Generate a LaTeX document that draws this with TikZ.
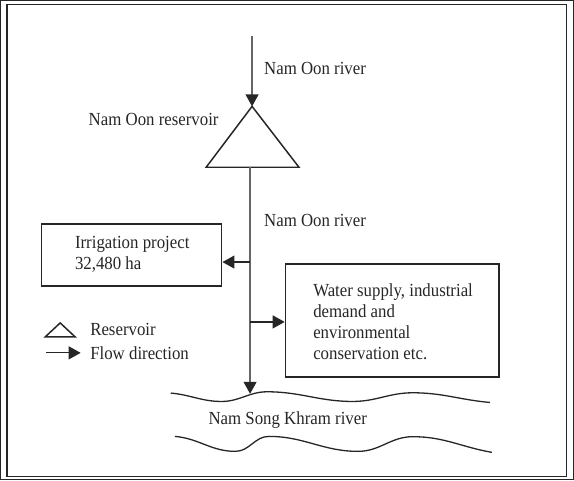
\documentclass[tikz,border=0pt]{standalone}
\usepackage{fontspec}
\setmainfont[FakeStretch=0.911]{Liberation Serif}
\usetikzlibrary{arrows.meta}
\tikzset{every path/.style={line width=1.2pt, draw=black!85},
  flow/.style={-{Triangle[length=12pt,width=13pt,color=black!85]}},
  stem/.style={draw=black!60},
  box/.style={draw, line width=1.5pt, inner sep=0pt},
  wave/.style={line width=1.3pt},
  lbl/.style={inner sep=0pt, font=\fontsize{18.5}{21}\selectfont, align=left, text=black!85}}

\begin{document}
\begin{tikzpicture}[x=1pt,y=-1pt]
\useasboundingbox (0,0) rectangle (574,480);
\draw[line width=1.6pt] (6.5,4) rectangle (567,477);
% reservoir
\coordinate (src) at (252,35);
\coordinate (apex) at (252,106);
\coordinate (baseL) at (206,167);
\coordinate (baseR) at (299,167);
\coordinate (resout) at (250,167);
\draw[line width=1.5pt, line join=miter] (apex) -- (baseL) -- (baseR) -- cycle;
\draw[flow, stem] (src) -- (apex);
\node[lbl, anchor=west] (riv1) at (263.5,68) {Nam Oon river};
\node[lbl, anchor=east] (res) at (219,119) {Nam Oon reservoir};
\node[lbl, anchor=west] (riv2) at (263.5,220) {Nam Oon river};
% users
\node[box, minimum width=180.5pt, minimum height=62pt] (irrig) at (131.3,255) {};
\node[lbl, anchor=west] (irrigtxt) at (74,254) {Irrigation project\\32,480 ha};
\node[box, minimum width=214pt, minimum height=113pt] (water) at (392.4,320.5) {};
\node[lbl, anchor=west] (watertxt) at (312.7,321.5) {Water supply, industrial\\demand and\\environmental\\conservation etc.};
\coordinate (j1) at (250,262);
\coordinate (j2) at (250,322);
\coordinate (khram) at (250,394);
\draw[flow, stem] (resout) -- (khram);
\draw[flow] (j1) -- (j1 -| irrig.east);
\draw[flow] (j2) -- (j2 -| water.west);
% Nam Song Khram
\draw[wave] (170.5,393.3) to[out=-5,in=180] (221.5,401.7) to[out=0,in=180] (267.1,392)
  to[out=0,in=180] (352.8,401.7) to[out=0,in=180] (413,393) to[out=0,in=175] (490.4,402.7);
\draw[wave] (174.7,436.7) to[out=-5,in=180] (235.2,451.7) to[out=0,in=180] (268.9,436.7)
  to[out=0,in=180] (358.2,451.7) to[out=0,in=180] (413,437) to[out=0,in=170] (492.3,452.7);
\node[lbl, anchor=west] (khramtxt) at (207.8,420) {Nam Song Khram river};
% legend
\coordinate (lgA) at (59.7,323);
\coordinate (lgL) at (44.7,337);
\coordinate (lgR) at (74.7,337);
\draw[line width=1.5pt, line join=miter] (lgA) -- (lgL) -- (lgR) -- cycle;
\node[lbl, anchor=west] (lgres) at (89.3,330) {Reservoir};
\coordinate (lgfrom) at (45.6,353);
\coordinate (lgto) at (80.2,353);
\draw[flow] (lgfrom) -- (lgto);
\node[lbl, anchor=west] (lgflow) at (89.3,353) {Flow direction};
\end{tikzpicture}
\end{document}
